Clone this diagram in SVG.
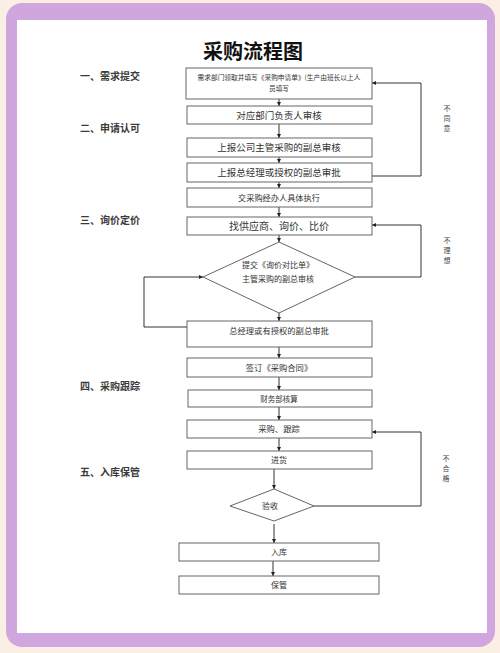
<svg xmlns="http://www.w3.org/2000/svg" width="500" height="653" viewBox="0 0 500 653">
<defs>
<marker id="ah" viewBox="0 0 10 10" refX="10" refY="5" markerWidth="4" markerHeight="4" orient="auto" markerUnits="userSpaceOnUse">
<path d="M0,0 L10,5 L0,10 Z" fill="#222"/>
</marker>
</defs>
<style>
.box{fill:#fff;stroke:#666;stroke-width:1}
.t{font-family:"Noto Sans CJK SC","Noto Sans",sans-serif;fill:#333;text-anchor:middle}
.sec{font-family:"Noto Sans CJK SC","Noto Sans",sans-serif;fill:#3a3a3a;font-size:10px;font-weight:bold}
.ln{fill:none;stroke:#555;stroke-width:1}
.arr{fill:none;stroke:#333;stroke-width:1;marker-end:url(#ah)}
.v{font-family:"Noto Sans CJK SC","Noto Sans",sans-serif;fill:#444;font-size:7px;text-anchor:middle}
</style>
<rect x="0" y="0" width="500" height="653" fill="#fbeee4"/>
<rect x="6" y="3" width="489" height="644" rx="16" fill="#cfa6de"/>
<rect x="17" y="20" width="470" height="613" fill="#fff"/>
<text x="253" y="59" class="t" style="font-size:20px;font-weight:bold;fill:#111">采购流程图</text>
<g id="sections">
<text x="80" y="80" class="sec">一、需求提交</text>
<text x="80" y="132" class="sec">二、申请认可</text>
<text x="80" y="224" class="sec">三、询价定价</text>
<text x="80" y="390" class="sec">四、采购跟踪</text>
<text x="80" y="476" class="sec">五、入库保管</text>
</g>
<g id="connectors">
<line x1="279" y1="99" x2="279" y2="106" class="arr"/>
<line x1="279" y1="124" x2="279" y2="138" class="arr"/>
<line x1="279" y1="157" x2="279" y2="163" class="arr"/>
<line x1="279" y1="182" x2="279" y2="188" class="arr"/>
<line x1="279" y1="207" x2="279" y2="217" class="arr"/>
<line x1="279" y1="235" x2="279" y2="242" class="arr"/>
<line x1="279" y1="313" x2="279" y2="321" class="arr"/>
<line x1="279" y1="347" x2="279" y2="358" class="arr"/>
<line x1="279" y1="377" x2="279" y2="390" class="arr"/>
<line x1="279" y1="407" x2="279" y2="420" class="arr"/>
<line x1="279" y1="438" x2="279" y2="451" class="arr"/>
<line x1="274" y1="469" x2="274" y2="489" class="arr"/>
<line x1="274" y1="524" x2="274" y2="543" class="arr"/>
<line x1="273" y1="561" x2="273" y2="576" class="arr"/>
<polyline points="372,176 421,176 421,83 372,83" class="arr"/>
<polyline points="355,277 421,277 421,225 372,225" class="arr"/>
<polyline points="187,327 144,327 144,277 203,277" class="arr"/>
<polyline points="314,506 421,506 421,432 372,432" class="arr"/>
</g>
<g id="n1">
<rect x="186" y="68" width="186" height="31" class="box"/>
<text x="279" y="80" class="t" style="font-size:6.7px">需求部门领取并填写《采购申请单》(生产由班长以上人</text>
<text x="279" y="91" class="t" style="font-size:6.7px">员填写</text>
</g>
<g id="n2">
<rect x="187" y="106" width="185" height="18" class="box"/>
<text x="279" y="118.5" class="t" style="font-size:9.5px">对应部门负责人审核</text>
</g>
<g id="n3">
<rect x="187" y="138" width="185" height="19" class="box"/>
<text x="279" y="151" class="t" style="font-size:9.5px">上报公司主管采购的副总审核</text>
</g>
<g id="n4">
<rect x="187" y="163" width="185" height="19" class="box"/>
<text x="279" y="176" class="t" style="font-size:9.5px">上报总经理或授权的副总审批</text>
</g>
<g id="n5">
<rect x="187" y="188" width="185" height="19" class="box"/>
<text x="279" y="200.5" class="t" style="font-size:8.2px">交采购经办人具体执行</text>
</g>
<g id="n6">
<rect x="187" y="217" width="185" height="18" class="box"/>
<text x="279" y="229.5" class="t" style="font-size:10px">找供应商、询价、比价</text>
</g>
<g id="d1">
<polygon points="279,242 355,277 279,313 203,277" class="box"/>
<text x="278" y="268" class="t" style="font-size:8px">提交《询价对比单》</text>
<text x="278" y="282" class="t" style="font-size:8px">主管采购的副总审核</text>
</g>
<g id="n7">
<rect x="187" y="321" width="185" height="26" class="box"/>
<text x="279" y="334" class="t" style="font-size:8.3px">总经理或有授权的副总审批</text>
</g>
<g id="n8">
<rect x="187" y="358" width="185" height="19" class="box"/>
<text x="279" y="370.5" class="t" style="font-size:8.3px">签订《采购合同》</text>
</g>
<g id="n9">
<rect x="188" y="390" width="184" height="17" class="box"/>
<text x="279" y="401.5" class="t" style="font-size:7.5px">财务部核算</text>
</g>
<g id="n10">
<rect x="187" y="420" width="185" height="18" class="box"/>
<text x="279" y="432" class="t" style="font-size:8.3px">采购、跟踪</text>
</g>
<g id="n11">
<rect x="187" y="451" width="185" height="18" class="box"/>
<text x="279" y="463" class="t" style="font-size:8px">进货</text>
</g>
<g id="d2">
<polygon points="274,489 314,506 274,521 230,506" class="box"/>
<text x="270" y="509" class="t" style="font-size:8px">验收</text>
</g>
<g id="n12">
<rect x="179" y="543" width="200" height="18" class="box"/>
<text x="279" y="555" class="t" style="font-size:8px">入库</text>
</g>
<g id="n13">
<rect x="179" y="576" width="200" height="18" class="box"/>
<text x="279" y="588" class="t" style="font-size:8px">保管</text>
</g>
<g id="labels">
<text class="v" x="447" y="111">不</text><text class="v" x="447" y="121">同</text><text class="v" x="447" y="131">意</text>
<text class="v" x="447" y="243">不</text><text class="v" x="447" y="253">理</text><text class="v" x="447" y="263">想</text>
<text class="v" x="446" y="461">不</text><text class="v" x="446" y="471">合</text><text class="v" x="446" y="481">格</text>
</g>
</svg>
